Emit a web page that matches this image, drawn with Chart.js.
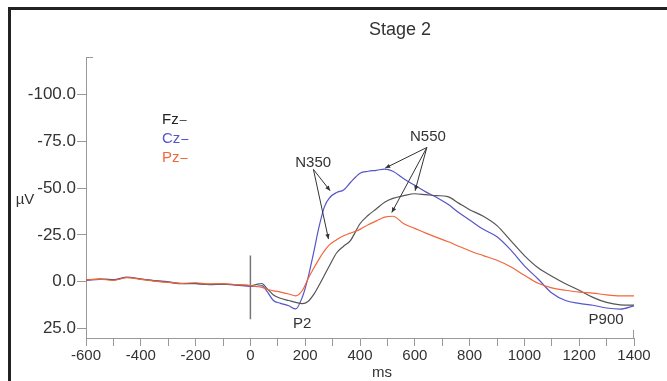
<!DOCTYPE html>
<html>
<head>
<meta charset="utf-8">
<script src="https://cdn.jsdelivr.net/npm/chart.js@4.4.0/dist/chart.umd.min.js"></script>
<style>
  html, body { margin: 0; padding: 0; background: #fff; }
  #wrap { position: relative; width: 667px; height: 381px; overflow: hidden; }
  #frame { position: absolute; left: 8px; top: 7px; right: -10px; bottom: -10px;
           border-top: 3px solid #222; border-left: 3px solid #222; pointer-events: none; }
  canvas { position: absolute; left: 0; top: 0; }
</style>
</head>
<body>
<div id="wrap">
  <canvas id="erp" width="667" height="381"></canvas>
  <div id="frame"></div>
</div>
<script>
// time points (ms) shared by all three electrodes
const times = [-600, -550, -500, -450, -400, -350, -300, -250, -200, -150, -100, -50, 0,
  20, 42, 60, 84, 110, 140, 165, 190, 210, 230, 250, 270, 290, 315, 340, 365, 400,
  430, 460, 490, 520, 560, 600, 640, 680, 720, 760, 800, 850, 900, 950, 1000,
  1050, 1100, 1150, 1200, 1250, 1300, 1350, 1400];

// amplitudes in µV (negative up)
const fz = [-1, -1.5, -1, -2.3, -1.5, -0.5, 0.2, 1, 0.8, 1.4, 1.2, 1.6, 2,
  1.5, 0.9, 3.5, 7, 8.8, 10, 11, 11.6, 10.5, 7, 2, -3.5, -9, -15.5, -19, -22, -31,
  -35.5, -39, -42.5, -44.5, -46, -47, -46.5, -46, -45.5, -42, -38.5, -35, -30, -22, -14,
  -7.5, -3, 1, 4.5, 8.3, 11, 12.3, 12.5];
const cz = [-0.8, -1.3, -1.2, -2.5, -1.4, -0.6, 0, 0.9, 1, 1.5, 1.3, 1.8, 2.5,
  2.5, 2, 5, 10, 11.5, 12.8, 14.5, 8, -2, -15, -29, -40, -45, -47.7, -49, -53, -58,
  -59, -59.5, -60.2, -59, -55, -51.5, -48, -45, -41.5, -37, -33, -28, -24, -17, -8.5,
  -1.5, 6, 10, 11.5, 12.5, 14, 14.6, 12.8];
const pz = [-1, -1.4, -0.8, -2.2, -1.3, -0.4, 0.3, 0.8, 0.5, 1.1, 1, 1.5, 2,
  2.5, 3, 4, 4.8, 5.5, 6.5, 7.5, 4.5, -1.5, -7, -12, -16.5, -20, -22.5, -24.6, -26, -28,
  -30.5, -32.5, -34.5, -35, -31, -28.5, -26, -23.7, -21.5, -19, -16.6, -14, -11.5, -8, -3.5,
  0.8, 3.2, 4.5, 5.5, 6, 7, 7.5, 7.5];

// stimulus onset marker
const onsetX = [0, 0];
const onsetY = [-14, 20];

const xTicks = [-600, -500, -400, -300, -200, -100, 0, 100, 200, 300, 400, 500, 600,
  700, 800, 900, 1000, 1100, 1200, 1300, 1400];
const yTicks = [-100, -75, -50, -25, 0, 25];

const seriesNames = ['Fz', 'Cz', 'Pz'];
const seriesColors = ['#555555', '#5555c8', '#f2663a'];
const legendColors = ['#222222', '#5555c8', '#f2663a'];

// annotation labels and arrows in data coords
const peakLabels = [
  { text: 'N350', x: 229, y: -63.5 },
  { text: 'N550', x: 648, y: -77.5 },
  { text: 'P2', x: 189, y: 22.4 },
  { text: 'P900', x: 1298, y: 20.5 }
];
const arrows = [
  { from: [230, -60], to: [291, -48.6] },
  { from: [230, -60], to: [285, -22.8] },
  { from: [644, -71.7], to: [492, -60.7] },
  { from: [644, -71.7], to: [601, -48.6] },
  { from: [644, -71.7], to: [516, -37] }
];

function toPoints(xs, ys) {
  return xs.map((x, i) => ({ x, y: ys[i] }));
}

const txtColor = '#333';
const fontFam = '"Liberation Sans", Arial, sans-serif';

const overlayPlugin = {
  id: 'overlay',
  afterDatasetsDraw(chart) {
    const { ctx, chartArea, scales } = chart;
    const xs = scales.x, ys = scales.y;
    ctx.save();
    ctx.fillStyle = txtColor;
    ctx.textAlign = 'center';
    ctx.textBaseline = 'middle';

    // title
    ctx.font = '18px ' + fontFam;
    ctx.fillText('Stage 2', 400, 30);

    // axis titles
    ctx.font = '15px ' + fontFam;
    ctx.fillText('\u00b5V', 25, 200);
    ctx.fillText('ms', 382, 373);

    // legend
    ctx.textAlign = 'left';
    seriesNames.forEach((n, i) => {
      const y = 120 + i * 19;
      ctx.fillStyle = legendColors[i];
      ctx.fillText(n, 162, y);
      const w = ctx.measureText(n).width;
      ctx.strokeStyle = seriesColors[i];
      ctx.lineWidth = 1;
      ctx.beginPath();
      ctx.moveTo(162 + w + 1, y + 0.5);
      ctx.lineTo(162 + w + 8, y + 0.5);
      ctx.stroke();
    });

    // peak labels
    ctx.fillStyle = txtColor;
    ctx.textAlign = 'center';
    ctx.font = '15px ' + fontFam;
    peakLabels.forEach(p => {
      ctx.fillText(p.text, xs.getPixelForValue(p.x), ys.getPixelForValue(p.y));
    });

    // arrows
    ctx.strokeStyle = '#333';
    ctx.fillStyle = '#333';
    ctx.lineWidth = 1;
    arrows.forEach(a => {
      const x0 = xs.getPixelForValue(a.from[0]), y0 = ys.getPixelForValue(a.from[1]);
      const x1 = xs.getPixelForValue(a.to[0]), y1 = ys.getPixelForValue(a.to[1]);
      ctx.beginPath();
      ctx.moveTo(x0, y0);
      ctx.lineTo(x1, y1);
      ctx.stroke();
      const ang = Math.atan2(y1 - y0, x1 - x0);
      const L = 5, W = 2.2;
      ctx.beginPath();
      ctx.moveTo(x1, y1);
      ctx.lineTo(x1 - L * Math.cos(ang) + W * Math.sin(ang), y1 - L * Math.sin(ang) - W * Math.cos(ang));
      ctx.lineTo(x1 - L * Math.cos(ang) - W * Math.sin(ang), y1 - L * Math.sin(ang) + W * Math.cos(ang));
      ctx.closePath();
      ctx.fill();
    });

    // axis end caps
    ctx.strokeStyle = '#999';
    ctx.beginPath();
    ctx.moveTo(chartArea.left, chartArea.top + 0.5);
    ctx.lineTo(chartArea.left + 7, chartArea.top + 0.5);
    ctx.moveTo(chartArea.right - 0.5, chartArea.bottom);
    ctx.lineTo(chartArea.right - 0.5, chartArea.bottom - 8);
    ctx.stroke();
    ctx.restore();
  }
};

const lineDs = (label, ys, color) => ({
  label,
  data: toPoints(times, ys),
  borderColor: color,
  borderWidth: 1.2,
  pointRadius: 0,
  cubicInterpolationMode: 'monotone',
  fill: false
});

new Chart(document.getElementById('erp'), {
  type: 'line',
  data: {
    datasets: [
      lineDs('Pz', pz, seriesColors[2]),
      lineDs('Fz', fz, seriesColors[0]),
      lineDs('Cz', cz, seriesColors[1]),
      {
        label: 'onset',
        data: toPoints(onsetX, onsetY),
        borderColor: '#777',
        borderWidth: 1.5,
        pointRadius: 0
      }
    ]
  },
  options: {
    responsive: false,
    animation: false,
    layout: { padding: { top: 57, right: 33, left: 0, bottom: 0 } },
    plugins: { legend: { display: false }, tooltip: { enabled: false }, title: { display: false } },
    scales: {
      x: {
        type: 'linear',
        min: -600,
        max: 1400,
        afterBuildTicks: s => { s.ticks = xTicks.map(v => ({ value: v })); },
        afterFit: s => { s.height = 43; },
        ticks: {
          autoSkip: false,
          maxRotation: 0,
          padding: 1,
          color: txtColor,
          font: { family: fontFam, size: 15 },
          callback: v => (v % 200 === 0 ? String(v) : '')
        },
        grid: { drawOnChartArea: false, tickLength: 8, color: '#999' },
        border: { color: '#999' }
      },
      y: {
        min: -120,
        max: 30,
        reverse: true,
        afterBuildTicks: s => { s.ticks = yTicks.map(v => ({ value: v })); },
        afterFit: s => { s.width = 86; },
        ticks: {
          padding: 1,
          color: txtColor,
          font: { family: fontFam, size: 17 },
          callback: v => v.toFixed(1)
        },
        grid: { drawOnChartArea: false, tickLength: 9, color: '#999' },
        border: { color: '#999' }
      }
    }
  },
  plugins: [overlayPlugin]
});
</script>
</body>
</html>
